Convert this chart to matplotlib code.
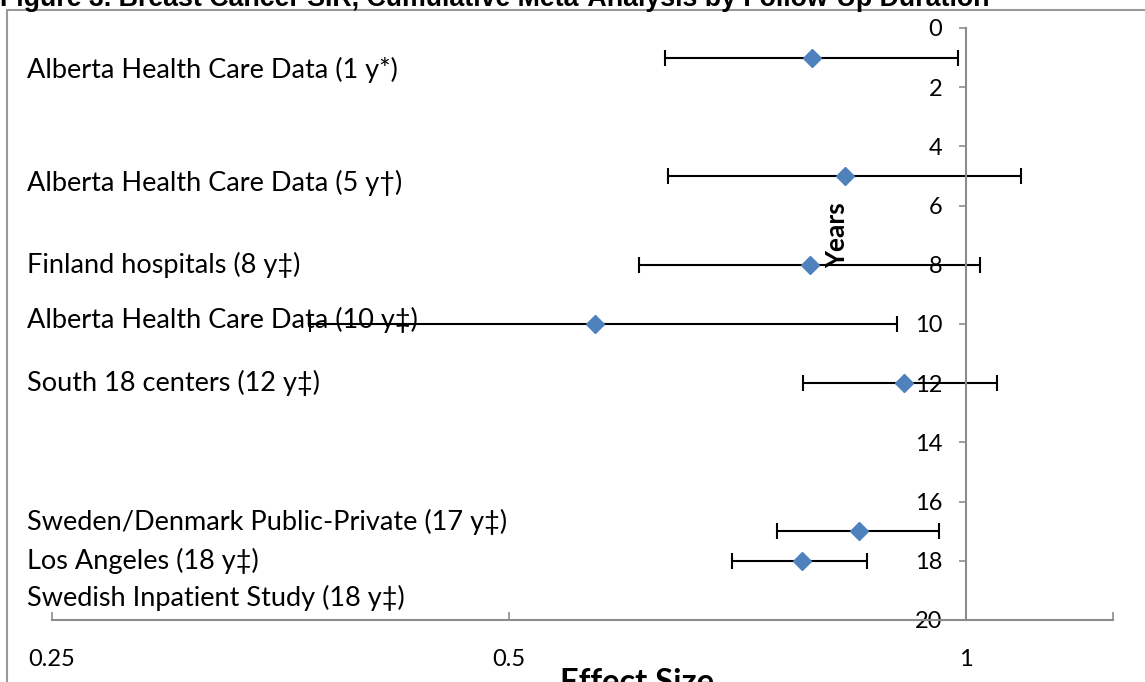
import matplotlib
matplotlib.use("Agg")
import matplotlib.pyplot as plt
from matplotlib.patches import Rectangle
from matplotlib.transforms import blended_transform_factory

plt.rcParams['font.family'] = ['Lato', 'DejaVu Sans']

# study estimates (effect size with lower/upper bounds) by follow-up year
years = [1, 5, 8, 10, 12, 17, 18]
effect = [0.792, 0.832, 0.790, 0.570, 0.910, 0.850, 0.780]
lower = [0.634, 0.636, 0.609, 0.370, 0.781, 0.751, 0.701]
upper = [0.988, 1.087, 1.021, 0.901, 1.048, 0.960, 0.861]

labels = ["Alberta Health Care Data (1 y*)",
          "Alberta Health Care Data (5 y\u2020)",
          "Finland hospitals (8 y\u2021)",
          "Alberta Health Care Data (10 y\u2021)",
          "South 18 centers (12 y\u2021)",
          "Sweden/Denmark Public-Private (17 y\u2021)",
          "Los Angeles (18 y\u2021)",
          "Swedish Inpatient Study (18 y\u2021)"]
label_y = [1.42, 5.24, 8.0, 9.86, 12.0, 16.7, 18.0, 19.26]

xticks = [0.25, 0.5, 1, 1.25]
xticklabels = ["0.25", "0.5", "1", ""]
yticks = list(range(0, 21, 2))

W, H = 1145, 682
fig = plt.figure(figsize=(W / 100, H / 100), dpi=100)
ax = fig.add_axes([52 / W, 1 - 620 / H, (1113 - 52) / W, (620 - 28) / H])

axis_grey = "#8c8c8c"
ax.set_xscale("log", base=2)
ax.set_xlim(0.25, 1.25)
ax.set_ylim(20, 0)

err = [[e - l for e, l in zip(effect, lower)], [u - e for e, u in zip(effect, upper)]]
ax.errorbar(effect, years, xerr=err, fmt="none", ecolor="black",
            elinewidth=1.5, capsize=5.8, capthick=1.5, zorder=2)
ax.plot(effect, years, linestyle="none", marker="D", markersize=9.5,
        color="#4F81BD", zorder=3)

ax.spines["top"].set_visible(False)
ax.spines["right"].set_visible(False)
ax.spines["left"].set_position(("data", 1))
for s in ("left", "bottom"):
    ax.spines[s].set_color(axis_grey)
    ax.spines[s].set_linewidth(1.5)

ax.set_xticks(xticks)
ax.set_xticklabels(xticklabels)
ax.xaxis.set_minor_locator(matplotlib.ticker.NullLocator())
ax.set_yticks(yticks)
ax.tick_params(axis="x", direction="in", length=6, width=1.2, color=axis_grey,
               pad=21, labelsize=17)
ax.tick_params(axis="y", direction="out", length=5, width=1.2, color=axis_grey,
               pad=12, labelsize=17)

tr = blended_transform_factory(fig.transFigure, ax.transData)
for lab, yy in zip(labels, label_y):
    ax.text(27 / W, yy, lab, transform=tr, ha="left", va="center",
            fontsize=19.5, clip_on=False)

ax.text(0.823, 7.0, "Years", rotation=90, ha="center", va="center",
        fontsize=19, fontweight="bold")

fig.text(637 / W, 1 - 668 / H, "Effect Size", ha="center", va="top",
         fontsize=23.5, fontweight="bold")
fig.text(0 / W, 1 - 6 / H,
         "Figure 3. Breast Cancer SIR, Cumulative Meta-Analysis by Follow-Up Duration",
         ha="left", va="baseline", fontsize=19.3, fontweight="bold",
         family=["Liberation Sans", "DejaVu Sans"])

fig.patches.append(Rectangle((7 / W, -0.1), 1.2, 1 - 10 / H + 0.1,
                             transform=fig.transFigure, fill=False,
                             edgecolor="#999999", linewidth=1.5))

fig.savefig("out.png", dpi=100)
